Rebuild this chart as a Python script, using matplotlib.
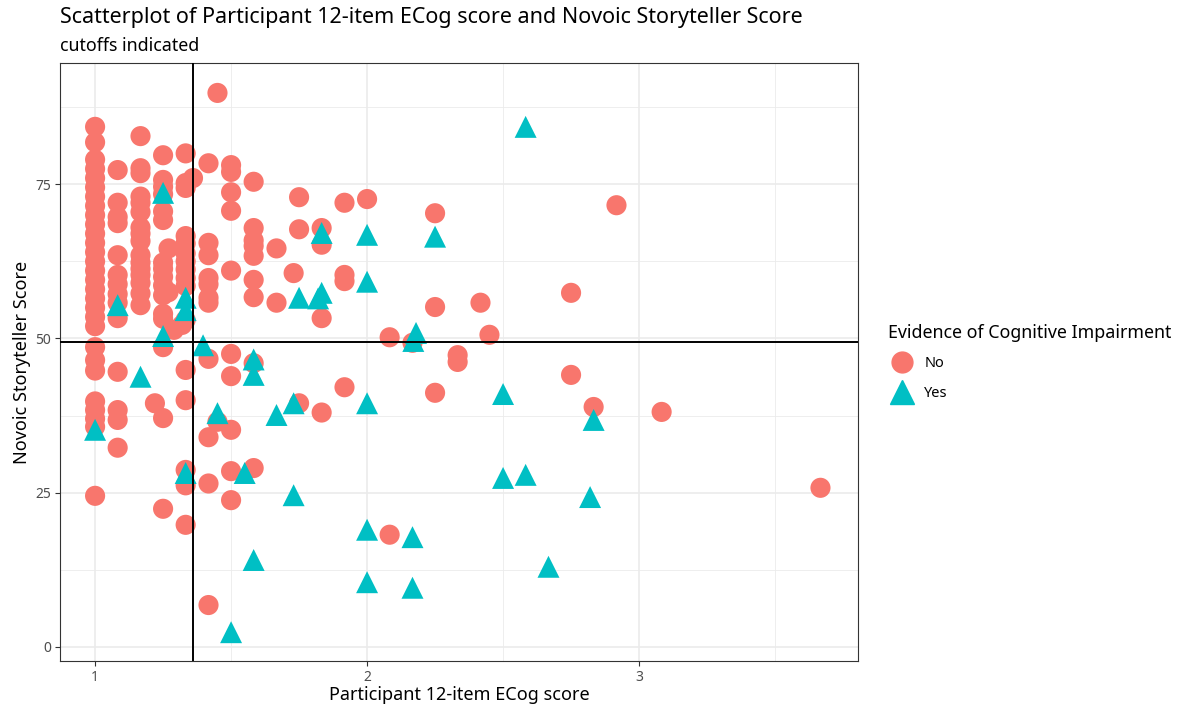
import matplotlib
matplotlib.use("Agg")
import matplotlib.pyplot as plt
from matplotlib.lines import Line2D

plt.rcParams['font.family'] = ['Noto Sans', 'DejaVu Sans']

title = "Scatterplot of Participant 12-item ECog score and Novoic Storyteller Score"
subtitle = "cutoffs indicated"
x_label = "Participant 12-item ECog score"
y_label = "Novoic Storyteller Score"
legend_title = "Evidence of Cognitive Impairment"
groups = ["No", "Yes"]
x_ticks = [1, 2, 3]
y_ticks = [0, 25, 50, 75]
x_cutoff = 1.36
y_cutoff = 49.4

no_x = ([1.0] * 29 + [1.083] * 14 + [1.167] * 16 + [1.22] + [1.25] * 16 + [1.27, 1.27, 1.29, 1.32]
        + [1.333] * 16 + [1.36] + [1.417] * 11 + [1.45, 1.45] + [1.5] * 10 + [1.583] * 9
        + [1.667] * 2 + [1.75] * 3 + [1.73] + [1.833] * 4 + [1.917] * 4 + [2.0]
        + [2.083] * 2 + [2.167] + [2.25] * 3 + [2.333] * 2 + [2.417, 2.45]
        + [2.75] * 2 + [2.833, 2.917, 3.083, 3.667])
no_y = ([84.3, 81.8, 79, 77.5, 76, 74.5, 73, 71.5, 70, 68.5, 67, 65.5, 64, 62.5, 61, 59.5, 58,
         56.5, 55, 53.5, 52, 48.6, 46.5, 44.8, 39.8, 38.4, 37, 35.7, 24.5]
        + [77.3, 72, 69.7, 68.7, 63.5, 60.3, 58.8, 57.2, 55.8, 53.3, 44.6, 38.4, 36.8, 32.3]
        + [82.8, 77.6, 76.8, 73, 72, 70.5, 68, 67, 65.8, 63.5, 62.3, 61.3, 60.3, 59, 57.3, 55.4]
        + [39.5]
        + [79.7, 75.7, 74.6, 73.4, 70.6, 69.2, 62.3, 61.3, 60, 58.6, 57, 54, 53.2, 48.6, 37.1, 22.4]
        + [64.6, 57.5, 51.4, 52.2]
        + [80, 75.2, 74.4, 66.6, 65.4, 63.8, 62.5, 61.2, 59.8, 58.5, 53, 44.9, 40, 28.7, 26.2, 19.8]
        + [76]
        + [78.4, 65.5, 63.5, 59.8, 58.8, 56.6, 55.8, 46.7, 34, 26.5, 6.8]
        + [89.8, 36.5]
        + [78.1, 77, 73.7, 70.7, 61, 47.5, 43.9, 35.2, 28.5, 23.8]
        + [75.4, 67.9, 65.9, 65, 63.4, 59.5, 56.7, 46, 29]
        + [64.6, 55.8]
        + [72.9, 67.7, 39.5] + [60.6]
        + [67.9, 65.2, 53.3, 38]
        + [72, 60.3, 59.3, 42.1]
        + [72.6]
        + [50.2, 18.2]
        + [49.3]
        + [70.3, 55.1, 41.2]
        + [47.3, 46.2]
        + [55.8, 50.6]
        + [57.4, 44.1]
        + [38.9, 71.6, 38.1, 25.8])

yes_x = [1.0, 1.083, 1.167, 1.25, 1.25, 1.333, 1.333, 1.333, 1.397, 1.45, 1.55, 1.583, 1.583,
         1.583, 1.5, 1.667, 1.73, 1.73, 1.75, 1.833, 1.833, 1.82, 2.0, 2.0, 2.0, 2.0, 2.0,
         2.167, 2.167, 2.18, 2.17, 2.25, 2.5, 2.5, 2.583, 2.583, 2.667, 2.82, 2.833]
yes_y = [35.2, 55.4, 43.8, 73.6, 50.4, 56.6, 54.6, 28.2, 48.9, 37.9, 28.2, 46.6, 44.1,
         14.1, 2.4, 37.6, 39.5, 24.6, 56.6, 67.1, 57.4, 56.5, 66.8, 59.2, 39.5, 19.0, 10.5,
         17.8, 9.6, 50.9, 49.6, 66.5, 41, 27.4, 27.9, 84.3, 13, 24.3, 36.8]

col_no = "#F8766D"
col_yes = "#00BFC4"

fig = plt.figure(figsize=(11.82, 7.06), dpi=100)
ax = fig.add_axes([60 / 1182, 1 - 661 / 706, 798 / 1182, 598 / 706])

ax.set_xlim(0.871, 3.805)
ax.set_ylim(-2.27, 94.65)

# grid
for v in [1.5, 2.5, 3.5]:
    ax.axvline(v, color="#EBEBEB", lw=0.6, zorder=0)
for v in [12.5, 37.5, 62.5, 87.5]:
    ax.axhline(v, color="#EBEBEB", lw=0.6, zorder=0)
for v in x_ticks:
    ax.axvline(v, color="#EBEBEB", lw=1.2, zorder=0)
for v in y_ticks:
    ax.axhline(v, color="#EBEBEB", lw=1.2, zorder=0)

ax.scatter(no_x, no_y, s=210, marker="o", color=col_no, edgecolors="none", zorder=2)
ax.scatter(yes_x, yes_y, s=250, marker="^", color=col_yes, edgecolors="none", zorder=2)

ax.axvline(x_cutoff, color="black", lw=1.4, zorder=3)
ax.axhline(y_cutoff, color="black", lw=1.4, zorder=3)

ax.set_xticks(x_ticks)
ax.set_xticklabels([str(t) for t in x_ticks])
ax.set_yticks(y_ticks)
ax.set_yticklabels([str(t) for t in y_ticks])
ax.tick_params(axis="both", colors="#333333", labelcolor="#4D4D4D", labelsize=10,
               length=3.5, width=0.8, pad=3)
for sp in ax.spines.values():
    sp.set_color("#333333")
    sp.set_linewidth(0.8)

ax.set_xlabel(x_label, fontsize=13, color="black", labelpad=0.5)
ax.set_ylabel(y_label, fontsize=13, color="black", labelpad=3)

fig.text(60 / 1182, 1 - 18 / 706, title, fontsize=15.5, ha="left", va="center")
fig.text(60 / 1182, 1 - 46 / 706, subtitle, fontsize=12.8, ha="left", va="center")

handles = [
    Line2D([], [], marker="o", linestyle="none", color=col_no, markersize=15),
    Line2D([], [], marker="^", linestyle="none", color=col_yes, markersize=17),
]
leg = fig.legend(handles, groups, title=legend_title, loc="upper left",
                 bbox_to_anchor=(882 / 1182, 1 - 318 / 706), frameon=False,
                 fontsize=10.5, title_fontsize=12.8, alignment="left",
                 handletextpad=0.5, labelspacing=1.0, borderaxespad=0)

fig.savefig("out.png", dpi=100)
